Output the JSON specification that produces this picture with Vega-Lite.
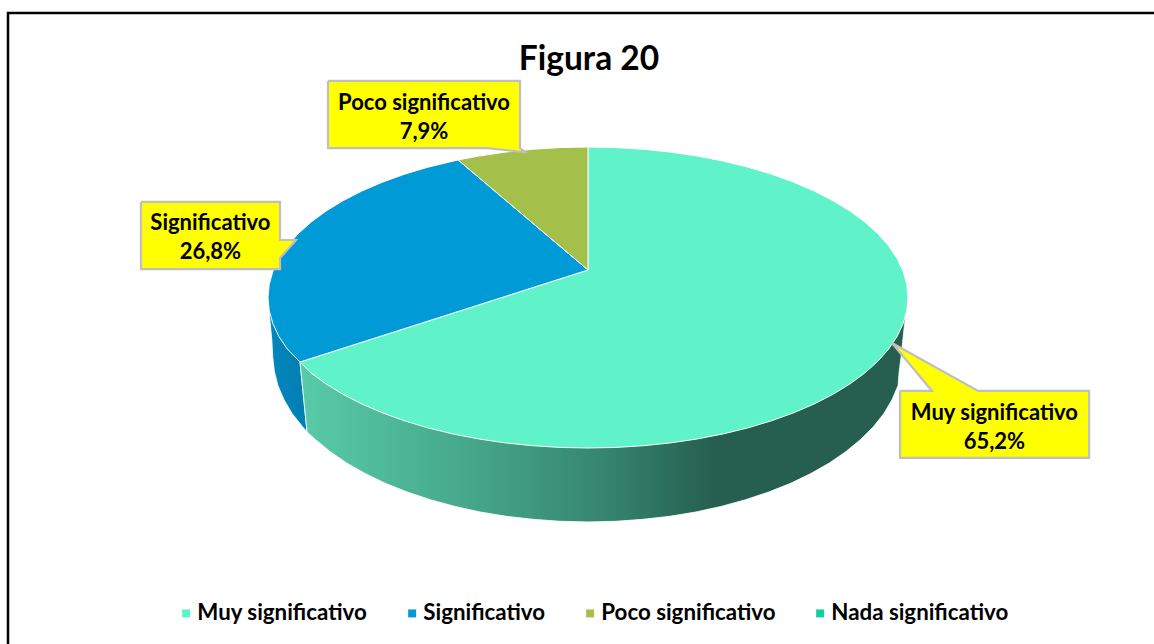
{
"$schema":"https://vega.github.io/schema/vega-lite/v6.json",
"width":1154,"height":644,"padding":0,"autosize":{"type":"none"},
"background":"white",
"title":{"text":"Figura 20","font":"Lato","fontSize":33.5,"fontWeight":"bold","color":"#000000","anchor":"middle","frame":"group","offset":0,"dx":12,"dy":77},
"config":{"view":{"stroke":null}},
"datasets":{
"paredes":[
{"capa":"frontal","o":1,"x":1.0,"y":-0.003},{"capa":"frontal","o":2,"x":0.994,"y":-0.1},{"capa":"frontal","o":3,"x":0.988,"y":-0.2},{"capa":"frontal","o":4,"x":0.983,"y":-0.3},{"capa":"frontal","o":5,"x":0.978,"y":-0.4},{"capa":"frontal","o":6,"x":0.972,"y":-0.5},{"capa":"frontal","o":7,"x":0.969,"y":-0.585},{"capa":"frontal","o":8,"x":0.95,"y":-0.679},{"capa":"frontal","o":9,"x":0.925,"y":-0.77},{"capa":"frontal","o":10,"x":0.892,"y":-0.858},{"capa":"frontal","o":11,"x":0.852,"y":-0.943},{"capa":"frontal","o":12,"x":0.806,"y":-1.024},{"capa":"frontal","o":13,"x":0.754,"y":-1.1},{"capa":"frontal","o":14,"x":0.696,"y":-1.17},{"capa":"frontal","o":15,"x":0.633,"y":-1.235},{"capa":"frontal","o":16,"x":0.564,"y":-1.293},{"capa":"frontal","o":17,"x":0.492,"y":-1.344},{"capa":"frontal","o":18,"x":0.416,"y":-1.388},{"capa":"frontal","o":19,"x":0.337,"y":-1.425},{"capa":"frontal","o":20,"x":0.255,"y":-1.454},{"capa":"frontal","o":21,"x":0.171,"y":-1.474},{"capa":"frontal","o":22,"x":0.086,"y":-1.487},{"capa":"frontal","o":23,"x":0,"y":-1.491},{"capa":"frontal","o":24,"x":-0.086,"y":-1.487},{"capa":"frontal","o":25,"x":-0.171,"y":-1.474},{"capa":"frontal","o":26,"x":-0.255,"y":-1.454},{"capa":"frontal","o":27,"x":-0.337,"y":-1.425},{"capa":"frontal","o":28,"x":-0.416,"y":-1.388},{"capa":"frontal","o":29,"x":-0.492,"y":-1.344},{"capa":"frontal","o":30,"x":-0.564,"y":-1.293},{"capa":"frontal","o":31,"x":-0.633,"y":-1.235},{"capa":"frontal","o":32,"x":-0.696,"y":-1.17},{"capa":"frontal","o":33,"x":-0.754,"y":-1.1},{"capa":"frontal","o":34,"x":-0.806,"y":-1.024},{"capa":"frontal","o":35,"x":-0.852,"y":-0.943},{"capa":"frontal","o":36,"x":-0.878,"y":-0.893},{"capa":"frontal","o":37,"x":-0.9,"y":-0.4286},
{"capa":"lateral","o":1,"x":-0.9,"y":-0.4286},{"capa":"lateral","o":2,"x":-0.878,"y":-0.893},{"capa":"lateral","o":3,"x":-0.892,"y":-0.858},{"capa":"lateral","o":4,"x":-0.925,"y":-0.77},{"capa":"lateral","o":5,"x":-0.95,"y":-0.679},{"capa":"lateral","o":6,"x":-0.969,"y":-0.585},{"capa":"lateral","o":7,"x":-0.98,"y":-0.491},{"capa":"lateral","o":8,"x":-0.985,"y":-0.4},{"capa":"lateral","o":9,"x":-0.988,"y":-0.282},{"capa":"lateral","o":10,"x":-0.994,"y":-0.15},{"capa":"lateral","o":11,"x":-1.0,"y":-0.003}
],
"sectores":[
{"categoria":"Muy significativo","o":0,"x":0,"y":0.183},{"categoria":"Muy significativo","o":1,"x":0,"y":1},{"categoria":"Muy significativo","o":2,"x":0.0872,"y":0.9962},{"categoria":"Muy significativo","o":3,"x":0.1736,"y":0.9848},{"categoria":"Muy significativo","o":4,"x":0.2588,"y":0.9659},{"categoria":"Muy significativo","o":5,"x":0.342,"y":0.9397},{"categoria":"Muy significativo","o":6,"x":0.4226,"y":0.9063},{"categoria":"Muy significativo","o":7,"x":0.5,"y":0.866},{"categoria":"Muy significativo","o":8,"x":0.5736,"y":0.8192},{"categoria":"Muy significativo","o":9,"x":0.6428,"y":0.766},{"categoria":"Muy significativo","o":10,"x":0.7071,"y":0.7071},{"categoria":"Muy significativo","o":11,"x":0.766,"y":0.6428},{"categoria":"Muy significativo","o":12,"x":0.8192,"y":0.5736},{"categoria":"Muy significativo","o":13,"x":0.866,"y":0.5},{"categoria":"Muy significativo","o":14,"x":0.9063,"y":0.4226},{"categoria":"Muy significativo","o":15,"x":0.9397,"y":0.342},{"categoria":"Muy significativo","o":16,"x":0.9659,"y":0.2588},{"categoria":"Muy significativo","o":17,"x":0.9848,"y":0.1736},{"categoria":"Muy significativo","o":18,"x":0.9962,"y":0.0872},{"categoria":"Muy significativo","o":19,"x":1,"y":0},
{"categoria":"Muy significativo","o":20,"x":0.9962,"y":-0.0872},{"categoria":"Muy significativo","o":21,"x":0.9848,"y":-0.1736},{"categoria":"Muy significativo","o":22,"x":0.9659,"y":-0.2588},{"categoria":"Muy significativo","o":23,"x":0.9397,"y":-0.342},{"categoria":"Muy significativo","o":24,"x":0.9063,"y":-0.4226},{"categoria":"Muy significativo","o":25,"x":0.866,"y":-0.5},{"categoria":"Muy significativo","o":26,"x":0.8192,"y":-0.5736},{"categoria":"Muy significativo","o":27,"x":0.766,"y":-0.6428},{"categoria":"Muy significativo","o":28,"x":0.7071,"y":-0.7071},{"categoria":"Muy significativo","o":29,"x":0.6428,"y":-0.766},{"categoria":"Muy significativo","o":30,"x":0.5736,"y":-0.8192},{"categoria":"Muy significativo","o":31,"x":0.5,"y":-0.866},{"categoria":"Muy significativo","o":32,"x":0.4226,"y":-0.9063},{"categoria":"Muy significativo","o":33,"x":0.342,"y":-0.9397},{"categoria":"Muy significativo","o":34,"x":0.2588,"y":-0.9659},{"categoria":"Muy significativo","o":35,"x":0.1736,"y":-0.9848},{"categoria":"Muy significativo","o":36,"x":0.0872,"y":-0.9962},{"categoria":"Muy significativo","o":37,"x":0,"y":-1},
{"categoria":"Muy significativo","o":38,"x":-0.0872,"y":-0.9962},{"categoria":"Muy significativo","o":39,"x":-0.1736,"y":-0.9848},{"categoria":"Muy significativo","o":40,"x":-0.2588,"y":-0.9659},{"categoria":"Muy significativo","o":41,"x":-0.342,"y":-0.9397},{"categoria":"Muy significativo","o":42,"x":-0.4226,"y":-0.9063},{"categoria":"Muy significativo","o":43,"x":-0.5,"y":-0.866},{"categoria":"Muy significativo","o":44,"x":-0.5736,"y":-0.8192},{"categoria":"Muy significativo","o":45,"x":-0.6428,"y":-0.766},{"categoria":"Muy significativo","o":46,"x":-0.7071,"y":-0.7071},{"categoria":"Muy significativo","o":47,"x":-0.766,"y":-0.6428},{"categoria":"Muy significativo","o":48,"x":-0.8192,"y":-0.5736},{"categoria":"Muy significativo","o":49,"x":-0.866,"y":-0.5},{"categoria":"Muy significativo","o":50,"x":-0.9,"y":-0.4286},{"categoria":"Muy significativo","o":51,"x":0,"y":0.183},
{"categoria":"Significativo","o":0,"x":0,"y":0.183},{"categoria":"Significativo","o":1,"x":-0.9,"y":-0.4286},{"categoria":"Significativo","o":2,"x":-0.9397,"y":-0.342},{"categoria":"Significativo","o":3,"x":-0.9659,"y":-0.2588},{"categoria":"Significativo","o":4,"x":-0.9848,"y":-0.1736},{"categoria":"Significativo","o":5,"x":-0.9962,"y":-0.0872},{"categoria":"Significativo","o":6,"x":-1,"y":0},{"categoria":"Significativo","o":7,"x":-0.9962,"y":0.0872},{"categoria":"Significativo","o":8,"x":-0.9848,"y":0.1736},{"categoria":"Significativo","o":9,"x":-0.9659,"y":0.2588},{"categoria":"Significativo","o":10,"x":-0.9397,"y":0.342},{"categoria":"Significativo","o":11,"x":-0.9063,"y":0.4226},{"categoria":"Significativo","o":12,"x":-0.866,"y":0.5},{"categoria":"Significativo","o":13,"x":-0.8192,"y":0.5736},{"categoria":"Significativo","o":14,"x":-0.766,"y":0.6428},{"categoria":"Significativo","o":15,"x":-0.7071,"y":0.7071},{"categoria":"Significativo","o":16,"x":-0.6428,"y":0.766},{"categoria":"Significativo","o":17,"x":-0.5736,"y":0.8192},{"categoria":"Significativo","o":18,"x":-0.5,"y":0.866},{"categoria":"Significativo","o":19,"x":-0.406,"y":0.914},{"categoria":"Significativo","o":20,"x":0,"y":0.183},
{"categoria":"Poco significativo","o":0,"x":0,"y":0.183},{"categoria":"Poco significativo","o":1,"x":-0.406,"y":0.914},{"categoria":"Poco significativo","o":2,"x":-0.342,"y":0.9397},{"categoria":"Poco significativo","o":3,"x":-0.2588,"y":0.9659},{"categoria":"Poco significativo","o":4,"x":-0.1736,"y":0.9848},{"categoria":"Poco significativo","o":5,"x":-0.0872,"y":0.9962},{"categoria":"Poco significativo","o":6,"x":0,"y":1},{"categoria":"Poco significativo","o":7,"x":0,"y":0.183}
],
"globos":[
{"categoria":"Muy significativo","o":1,"x":0.975,"y":-0.621},{"categoria":"Muy significativo","o":2,"x":1.075,"y":-0.621},{"categoria":"Muy significativo","o":3,"x":0.95,"y":-0.302},{"categoria":"Muy significativo","o":4,"x":1.219,"y":-0.621},{"categoria":"Muy significativo","o":5,"x":1.566,"y":-0.621},{"categoria":"Muy significativo","o":6,"x":1.566,"y":-1.066},{"categoria":"Muy significativo","o":7,"x":0.975,"y":-1.066},{"categoria":"Muy significativo","o":8,"x":0.975,"y":-0.621},
{"categoria":"Significativo","o":1,"x":-1.397,"y":0.635},{"categoria":"Significativo","o":2,"x":-0.9625,"y":0.635},{"categoria":"Significativo","o":3,"x":-0.9625,"y":0.382},{"categoria":"Significativo","o":4,"x":-0.9125,"y":0.382},{"categoria":"Significativo","o":5,"x":-0.9625,"y":0.262},{"categoria":"Significativo","o":6,"x":-0.9625,"y":0.189},{"categoria":"Significativo","o":7,"x":-1.397,"y":0.189},{"categoria":"Significativo","o":8,"x":-1.397,"y":0.635},
{"categoria":"Poco significativo","o":1,"x":-0.8125,"y":1.439},{"categoria":"Poco significativo","o":2,"x":-0.2125,"y":1.439},{"categoria":"Poco significativo","o":3,"x":-0.2125,"y":0.993},{"categoria":"Poco significativo","o":4,"x":-0.197,"y":0.966},{"categoria":"Poco significativo","o":5,"x":-0.316,"y":0.993},{"categoria":"Poco significativo","o":6,"x":-0.8125,"y":0.993},{"categoria":"Poco significativo","o":7,"x":-0.8125,"y":1.439}
],
"etiquetas":[
{"categoria":"Muy significativo","valor":"65,2%","x":1.27,"y":-0.857},
{"categoria":"Significativo","valor":"26,8%","x":-1.18,"y":0.409},
{"categoria":"Poco significativo","valor":"7,9%","x":-0.5125,"y":1.206}
],
"marco":[{"o":1,"x":-1.8125,"y":-2.3023},{"o":2,"x":-1.8125,"y":1.89},{"o":3,"x":1.76875,"y":1.89}]
},
"encoding":{
"x":{"field":"x","type":"quantitative","axis":null,"scale":{"domain":[-1.8375,1.76875],"nice":false,"zero":false}},
"y":{"field":"y","type":"quantitative","axis":null,"scale":{"domain":[-2.3023,1.9767],"nice":false,"zero":false}},
"order":{"field":"o","type":"quantitative"}
},
"layer":[
{"data":{"name":"marco"},"mark":{"type":"line","stroke":"#000000","strokeWidth":2.5,"clip":false}},
{"data":{"name":"paredes"},"transform":[{"filter":"datum.capa=='lateral'"}],
 "mark":{"type":"line","stroke":"#ffffff","strokeWidth":0.8,"fill":{"gradient":"linear","x1":0,"y1":0,"x2":1,"y2":0,"stops":[{"offset":0,"color":"#0386be"},{"offset":1,"color":"#017fb3"}]}}},
{"data":{"name":"paredes"},"transform":[{"filter":"datum.capa=='frontal'"}],
 "mark":{"type":"line","stroke":"#ffffff","strokeWidth":0.8,"fill":{"gradient":"linear","x1":0,"y1":0,"x2":1,"y2":0,"stops":[{"offset":0,"color":"#58cba8"},{"offset":0.25,"color":"#48ab8e"},{"offset":0.5,"color":"#368570"},{"offset":0.68,"color":"#265f50"},{"offset":1,"color":"#265f50"}]}}},
{"data":{"name":"sectores"},
 "mark":{"type":"line","stroke":"#ffffff","strokeWidth":1,"strokeJoin":"round"},
 "encoding":{"fill":{"field":"categoria","type":"nominal","scale":{"domain":["Muy significativo","Significativo","Poco significativo","Nada significativo"],"range":["#60f2c8","#009ad6","#a4c04b","#13cf9e"]},
  "legend":{"title":null,"orient":"none","legendX":175,"legendY":602,"direction":"horizontal","symbolType":"square","symbolSize":64,"symbolStrokeWidth":0,"symbolStrokeColor":"transparent","labelFont":"Lato","labelFontWeight":"bold","labelFontSize":22.3,"labelColor":"#000000","labelOffset":0,"columnPadding":33,"labelLimit":300}}}},
{"data":{"name":"globos"},"mark":{"type":"line","fill":"#ffff00","stroke":"#bfbfbf","strokeWidth":2.2,"strokeJoin":"miter"},"encoding":{"detail":{"field":"categoria"}}},
{"data":{"name":"etiquetas"},"transform":[{"calculate":"datum.categoria+'\\n'+datum.valor","as":"texto"}],
 "mark":{"type":"text","font":"Lato","fontWeight":"bold","fontSize":22,"color":"#000000","align":"center","baseline":"middle","lineBreak":"\n","lineHeight":29,"dy":-13},
 "encoding":{"text":{"field":"texto"}}}
]
}
